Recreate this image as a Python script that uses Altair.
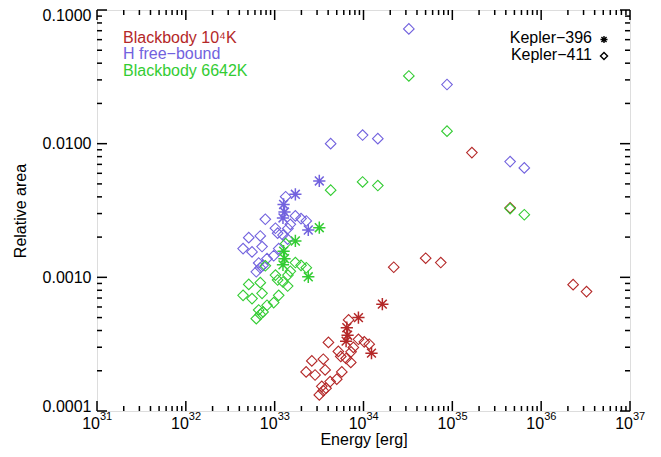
import altair as alt
import pandas as pd

# ---------------- data ----------------
models = ["Blackbody 10⁴K", "H free−bound", "Blackbody 6642K"]
colors = ["#B42828", "#7262DE", "#33CC33"]
stars = ["Kepler−396", "Kepler−411"]

red411_E = [6.8e33, 4.03e33, 8.77e33, 1.02e34, 1.16e34, 7.69e33, 7.24e33, 5.21e33, 5.55e33, 6.37e33,
            7.19e33, 2.62e33, 3.53e33, 2.26e33, 2.85e33, 3.70e33, 5.70e33, 5.00e33, 4.21e33, 3.39e33,
            3.79e33, 3.18e33, 3.53e33, 2.19e34, 5.01e34, 7.41e34, 1.66e35, 4.47e35, 2.29e36, 3.24e36]
red411_A = [4.80e-4, 3.26e-4, 3.44e-4, 3.29e-4, 3.16e-4, 2.99e-4, 2.77e-4, 2.79e-4, 2.56e-4, 2.47e-4,
            2.31e-4, 2.37e-4, 2.44e-4, 1.96e-4, 1.86e-4, 2.03e-4, 1.96e-4, 1.73e-4, 1.66e-4, 1.53e-4,
            1.48e-4, 1.32e-4, 1.42e-4, 1.19e-3, 1.39e-3, 1.29e-3, 8.57e-3, 3.31e-3, 8.81e-4, 7.82e-4]

blue411_E = [1.33e33, 7.85e32, 1.71e33, 1.98e33, 2.27e33, 1.50e33, 1.41e33, 1.02e33, 1.08e33, 1.24e33,
             1.40e33, 5.11e32, 6.89e32, 4.41e32, 5.56e32, 7.21e32, 1.11e33, 9.75e32, 8.20e32, 6.61e32,
             7.40e32, 6.21e32, 6.89e32, 4.27e33, 9.77e33, 1.45e34, 3.24e34, 8.71e34, 4.47e35, 6.46e35]
blue411_A = [4.01e-3, 2.72e-3, 2.88e-3, 2.75e-3, 2.64e-3, 2.49e-3, 2.32e-3, 2.33e-3, 2.14e-3, 2.07e-3,
             1.93e-3, 1.98e-3, 2.04e-3, 1.64e-3, 1.55e-3, 1.70e-3, 1.64e-3, 1.45e-3, 1.38e-3, 1.28e-3,
             1.23e-3, 1.10e-3, 1.18e-3, 1.00e-2, 1.16e-2, 1.09e-2, 7.22e-2, 2.77e-2, 7.34e-3, 6.59e-3]

green411_E = [1.33e33, 7.85e32, 1.71e33, 1.98e33, 2.27e33, 1.50e33, 1.41e33, 1.02e33, 1.08e33, 1.24e33,
              1.40e33, 5.11e32, 6.89e32, 4.41e32, 5.56e32, 7.21e32, 1.11e33, 9.75e32, 8.20e32, 6.61e32,
              7.40e32, 6.21e32, 6.89e32, 4.27e33, 9.77e33, 1.45e34, 3.24e34, 8.71e34, 4.47e35, 6.46e35]
green411_A = [1.79e-3, 1.22e-3, 1.29e-3, 1.23e-3, 1.18e-3, 1.11e-3, 1.04e-3, 1.04e-3, 9.55e-4, 9.23e-4,
              8.61e-4, 8.85e-4, 9.12e-4, 7.33e-4, 6.93e-4, 7.59e-4, 7.33e-4, 6.47e-4, 6.18e-4, 5.70e-4,
              5.51e-4, 4.91e-4, 5.28e-4, 4.49e-3, 5.17e-3, 4.86e-3, 3.21e-2, 1.24e-2, 3.27e-3, 2.94e-3]

red396_E = [1.63e34, 8.77e33, 6.49e33, 6.62e33, 6.37e33, 1.23e34]
red396_A = [6.30e-4, 5.00e-4, 4.20e-4, 3.69e-4, 3.33e-4, 2.71e-4]
blue396_E = [3.18e33, 1.71e33, 1.26e33, 1.29e33, 1.24e33, 2.39e33]
blue396_A = [5.26e-3, 4.18e-3, 3.51e-3, 3.08e-3, 2.78e-3, 2.26e-3]
green396_E = [3.18e33, 1.71e33, 1.26e33, 1.29e33, 1.24e33, 2.39e33]
green396_A = [2.35e-3, 1.87e-3, 1.57e-3, 1.38e-3, 1.24e-3, 1.01e-3]

x_major = [1e31, 1e32, 1e33, 1e34, 1e35, 1e36, 1e37]
x_exponents = ["31", "32", "33", "34", "35", "36", "37"]
y_major = [1e-4, 1e-3, 1e-2, 1e-1]

# ---------------- tables ----------------
def frame(E, A, model, star):
    return pd.DataFrame({"E": E, "A": A, "model": model, "star": star})

d411 = pd.concat([frame(red411_E, red411_A, models[0], stars[1]),
                  frame(blue411_E, blue411_A, models[1], stars[1]),
                  frame(green411_E, green411_A, models[2], stars[1])], ignore_index=True)
d396 = pd.concat([frame(red396_E, red396_A, models[0], stars[0]),
                  frame(blue396_E, blue396_A, models[1], stars[0]),
                  frame(green396_E, green396_A, models[2], stars[0])], ignore_index=True)
xlab = pd.DataFrame({"v": x_major, "base": ["10"] * len(x_major), "exp": x_exponents})

x_minor = [k * m for m in x_major[:-1] for k in range(2, 10)]
y_minor = [k * m for m in y_major[:-1] for k in range(2, 10)]

W, H = 533, 401
FONT = "Liberation Sans"
FS = 16

xscale = alt.Scale(type="log", domain=[1e31, 1e37], nice=False)
yscale = alt.Scale(type="log", domain=[1e-4, 1e-1], nice=False)
xaxis = alt.Axis(values=x_major, labels=False, title="Energy [erg]", domain=False,
                 ticks=False, grid=False,
                 titleFontSize=FS, titleFont=FONT, titleFontWeight="normal",
                 titleX=W / 2, titleY=28, titleBaseline="middle", titleColor="black")
yaxis = alt.Axis(values=y_major, format=".4f", title="Relative area", domain=False, ticks=False,
                 grid=False, labelPadding=6, labelFontSize=FS, labelFont=FONT,
                 titleFontSize=FS, titleFont=FONT, titleFontWeight="normal",
                 titleX=-77, titleY=H / 2, titleBaseline="middle", titleAlign="center",
                 titleColor="black", labelColor="black", labelFlush=True, labelFlushOffset=3)

X = lambda f: alt.X(f, type="quantitative", scale=xscale, axis=xaxis)
Y = lambda f: alt.Y(f, type="quantitative", scale=yscale, axis=yaxis)

color = alt.Color("model:N", scale=alt.Scale(domain=models, range=colors), legend=None)

ASTER = "M0,-1L0,1M-1,0L1,0M-0.72,-0.72L0.72,0.72M-0.72,0.72L0.72,-0.72"

diamonds = alt.Chart(d411).mark_point(shape="diamond", filled=False, size=112,
                                      strokeWidth=1.1, opacity=1).encode(
    x=X("E"), y=Y("A"), color=color)
asters = alt.Chart(d396).mark_point(shape=ASTER, filled=False, size=150,
                                    strokeWidth=1.5, opacity=1).encode(
    x=X("E"), y=Y("A"), color=color)

# x tick labels: "10" with a raised exponent
xlab_base = alt.Chart(xlab).mark_text(align="right", baseline="middle", font=FONT, fontSize=FS,
                                      color="black", dx=3).encode(
    x=X("v"), y=alt.value(H + 13), text="base:N")
xlab_exp = alt.Chart(xlab).mark_text(align="left", baseline="middle", font=FONT, fontSize=11,
                                     color="black", dx=3).encode(
    x=X("v"), y=alt.value(H + 6), text="exp:N")

def ticks(vals, axis, length):
    df = pd.DataFrame({"v": vals})
    layers = []
    if axis == "x":
        layers.append(alt.Chart(df).mark_rule(color="black", strokeWidth=1.5).encode(
            x=X("v"), y=alt.value(H), y2=alt.value(H - length)))
        layers.append(alt.Chart(df).mark_rule(color="black", strokeWidth=1.5).encode(
            x=X("v"), y=alt.value(0), y2=alt.value(length)))
    else:
        layers.append(alt.Chart(df).mark_rule(color="black", strokeWidth=1.5).encode(
            y=Y("v"), x=alt.value(0), x2=alt.value(length)))
        layers.append(alt.Chart(df).mark_rule(color="black", strokeWidth=1.5).encode(
            y=Y("v"), x=alt.value(W), x2=alt.value(W - length)))
    return layers

tick_layers = (ticks(x_major, "x", 10) + ticks(x_minor, "x", 5)
               + ticks(y_major, "y", 10) + ticks(y_minor, "y", 5))

# model legend (coloured text), one layer per row
model_rows_y = [28, 44, 61]
model_legend = [
    alt.Chart(pd.DataFrame({"model": [m]})).mark_text(
        align="left", baseline="middle", font=FONT, fontSize=FS).encode(
        x=alt.value(26), y=alt.value(yy), text="model:N", color=color)
    for m, yy in zip(models, model_rows_y)
]

# star legend (black text + symbol), one layer per row
star_rows_y = [28, 44.5]
shape_scale = alt.Scale(domain=stars, range=[ASTER, "diamond"])
star_legend = []
for s, yy in zip(stars, star_rows_y):
    sdf = pd.DataFrame({"star": [s]})
    star_legend.append(alt.Chart(sdf).mark_text(
        align="right", baseline="middle", font=FONT, fontSize=FS, color="black").encode(
        x=alt.value(495), y=alt.value(yy), text="star:N"))
    star_legend.append(alt.Chart(sdf).mark_point(
        filled=False, color="black", size=50, strokeWidth=1.4, opacity=1).encode(
        x=alt.value(507), y=alt.value(yy + 1.5),
        shape=alt.Shape("star:N", scale=shape_scale, legend=None)))

chart = alt.layer(*tick_layers, diamonds, asters, xlab_base, xlab_exp,
                  *model_legend, *star_legend).properties(
    width=W, height=H,
    autosize=alt.AutoSizeParams(type="none"),
    padding={"left": 89, "top": 2, "right": 23, "bottom": 38},
).configure_view(
    stroke="black", strokeWidth=1.6
).configure(background="white")

chart.save("out.html", embed_options={"renderer": "svg", "actions": False})
